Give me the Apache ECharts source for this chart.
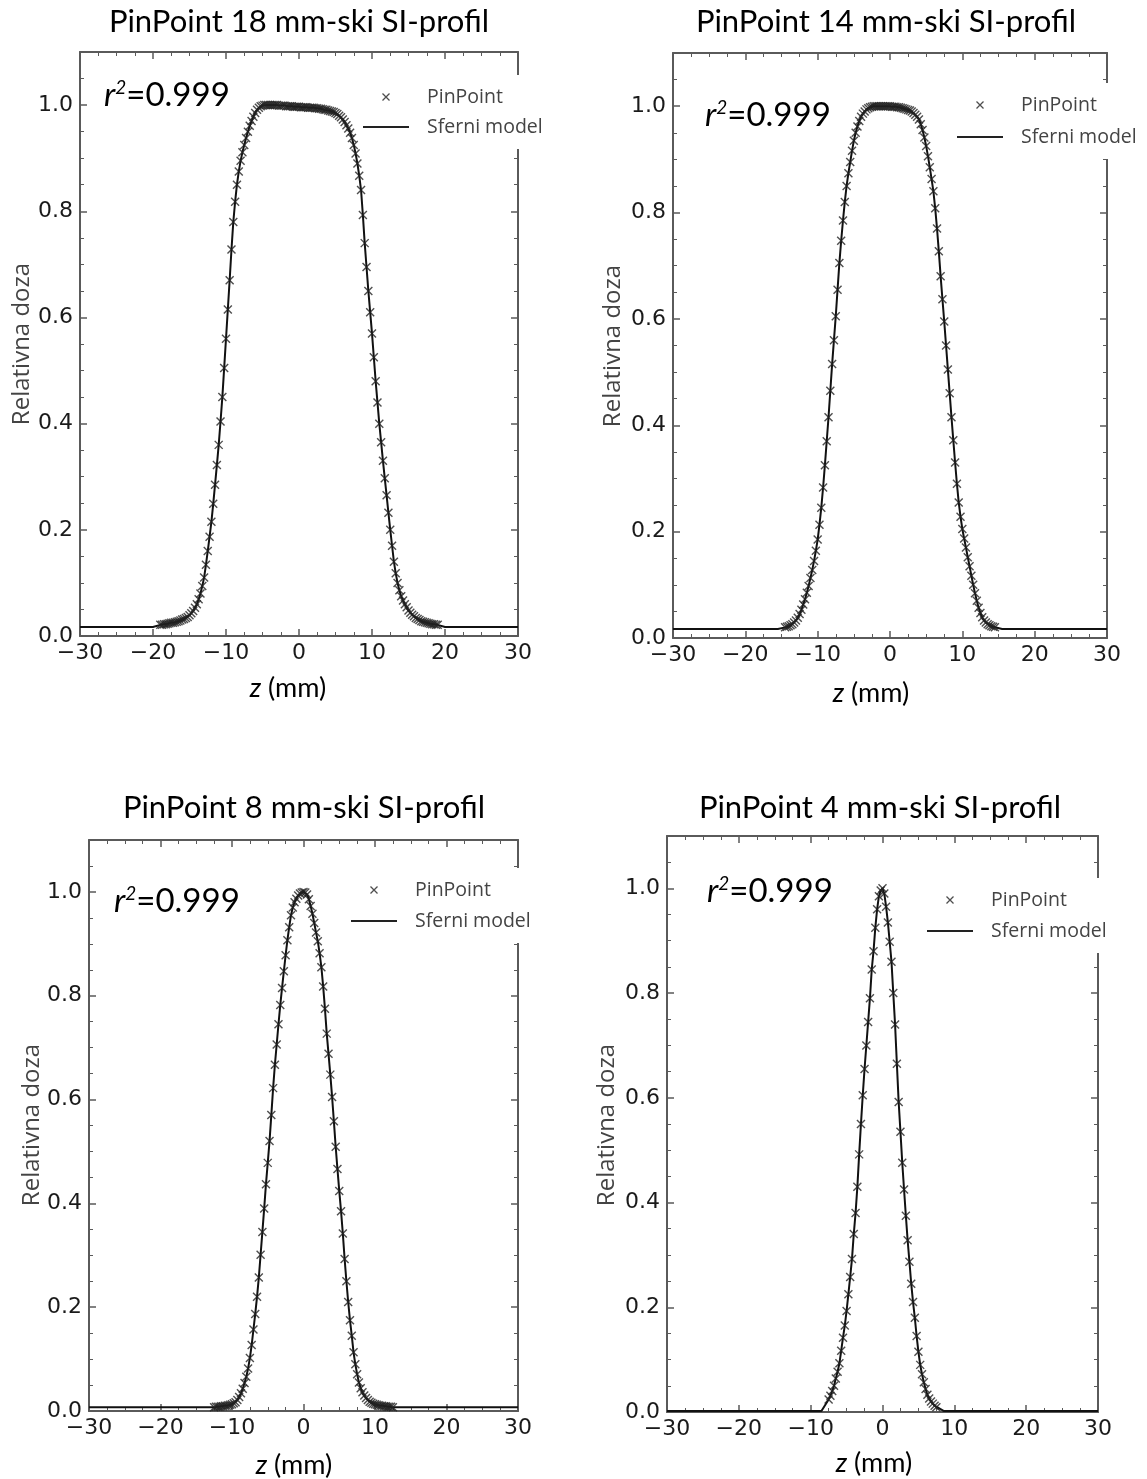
<!DOCTYPE html>
<html><head><meta charset="utf-8">
<script src="https://cdn.jsdelivr.net/npm/echarts@6/dist/echarts.min.js"></script>
<style>html,body{margin:0;padding:0;background:#fff}#c{width:1147px;height:1479px}</style>
</head><body><div id="c"></div>
<script>
// ---------------- DATA ----------------
const panelTitles = ['PinPoint 18 mm-ski SI-profil', 'PinPoint 14 mm-ski SI-profil', 'PinPoint 8 mm-ski SI-profil', 'PinPoint 4 mm-ski SI-profil'];
const r2Values = ['0.999', '0.999', '0.999', '0.999'];
const legendNames = ['PinPoint', 'Sferni model'];
const xAxisTitle = 'z';
const xAxisUnit = ' (mm)';
const yAxisTitle = 'Relativna doza';
const xRange = [-30, 30];
const xTickStep = 10;
const yRange = [0, 1.1];
const yTickStep = 0.2;

// measurement grids (start position in mm, spacing 0.25 mm)
const measStep = 0.25;
const pp18Start = -19;
const pp14Start = -14.5;
const pp8Start = -12.5;
const pp4Start = -7.5;

// relative dose
const pp18Dose = [
0.021,0.021,0.022,0.022,0.023,0.024,0.025,0.025,0.026,0.027,0.028,0.029,0.031,0.032,0.034,0.036,
0.039,0.043,0.047,0.053,0.060,0.069,0.080,0.094,0.110,0.134,0.160,0.187,0.215,0.249,0.285,0.322,
0.360,0.404,0.450,0.505,0.560,0.615,0.670,0.728,0.780,0.818,0.850,0.875,0.895,0.911,0.925,0.938,
0.950,0.961,0.970,0.978,0.985,0.991,0.995,0.998,0.999,1.000,1.000,1.000,1.000,1.000,1.000,1.000,
1.000,0.999,0.999,0.999,0.999,0.998,0.998,0.998,0.998,0.997,0.997,0.997,0.997,0.996,0.996,0.996,
0.996,0.995,0.995,0.995,0.995,0.994,0.994,0.993,0.993,0.992,0.991,0.991,0.990,0.989,0.988,0.987,
0.985,0.983,0.980,0.977,0.973,0.968,0.962,0.956,0.948,0.938,0.925,0.909,0.890,0.867,0.840,0.793,
0.740,0.695,0.650,0.610,0.570,0.525,0.480,0.440,0.400,0.365,0.330,0.297,0.265,0.232,0.200,0.170,
0.140,0.118,0.100,0.086,0.075,0.067,0.060,0.054,0.048,0.044,0.040,0.037,0.034,0.032,0.030,0.028,
0.027,0.026,0.025,0.024,0.023,0.022,0.022,0.021,0.021];
const pp14Dose = [
0.020,0.021,0.022,0.024,0.026,0.029,0.033,0.038,0.045,0.053,0.063,0.073,0.085,0.098,0.113,0.128,
0.145,0.164,0.185,0.213,0.245,0.283,0.325,0.370,0.415,0.465,0.515,0.560,0.605,0.655,0.705,0.747,
0.785,0.820,0.850,0.874,0.895,0.916,0.935,0.950,0.962,0.972,0.980,0.986,0.990,0.994,0.996,0.998,
0.999,1.000,1.000,1.000,1.000,1.000,1.000,1.000,1.000,1.000,1.000,0.999,0.999,0.999,0.998,0.998,
0.997,0.996,0.995,0.994,0.993,0.992,0.990,0.987,0.984,0.980,0.975,0.966,0.955,0.941,0.925,0.906,
0.885,0.863,0.840,0.808,0.770,0.727,0.680,0.637,0.595,0.550,0.505,0.460,0.415,0.372,0.330,0.290,
0.255,0.228,0.205,0.187,0.170,0.152,0.135,0.117,0.100,0.084,0.070,0.057,0.047,0.039,0.033,0.029,
0.026,0.024,0.022,0.021,0.020];
const pp8Dose = [
0.007,0.008,0.008,0.008,0.009,0.009,0.010,0.010,0.011,0.012,0.013,0.015,0.017,0.021,0.027,0.034,
0.043,0.054,0.066,0.082,0.102,0.127,0.157,0.187,0.220,0.257,0.301,0.345,0.390,0.437,0.478,0.520,
0.570,0.622,0.667,0.706,0.745,0.782,0.815,0.847,0.878,0.907,0.932,0.955,0.970,0.980,0.987,0.993,
0.997,0.999,1.000,0.999,0.995,0.986,0.973,0.958,0.940,0.922,0.905,0.882,0.855,0.818,0.775,0.727,
0.688,0.648,0.605,0.558,0.509,0.466,0.424,0.385,0.342,0.293,0.250,0.210,0.175,0.145,0.113,0.090,
0.071,0.055,0.044,0.036,0.030,0.025,0.021,0.018,0.016,0.014,0.013,0.012,0.011,0.010,0.010,0.009,
0.009,0.008,0.008,0.008,0.007];
const pp4Dose = [
0.024,0.031,0.040,0.050,0.064,0.077,0.093,0.117,0.142,0.165,0.193,0.225,0.258,0.292,0.340,0.380,
0.430,0.492,0.550,0.605,0.655,0.700,0.745,0.790,0.845,0.880,0.925,0.960,0.985,0.996,1.000,0.990,
0.965,0.935,0.898,0.860,0.800,0.740,0.665,0.592,0.535,0.476,0.425,0.375,0.328,0.287,0.245,0.210,
0.180,0.145,0.115,0.090,0.072,0.057,0.044,0.033,0.026,0.020,0.016,0.012,0.009];

// flat background level of the spherical model outside the scanned range
const modelBaseline = [0.017, 0.017, 0.007, 0.002];

// ---------------- LAYOUT / STYLE ----------------
const FRAME = '#5a5a5a';
const TICKFONT = '"DejaVu Sans", sans-serif';
const TITLEFONT = 'Lato, "Open Sans", sans-serif';
const LEGFONT = '"Open Sans", sans-serif';

const layout = [
  {grid:{left:80, top:52, width:438, height:584}, title:[299,22], r2:[104,95], leg:{left:363, top:75, gap:10}, yname:[22,344], xname:[288,688]},
  {grid:{left:673, top:53, width:434, height:585}, title:[886,22], r2:[705,115], leg:{left:957, top:83, gap:12}, yname:[613,346], xname:[871,693]},
  {grid:{left:89, top:840, width:429, height:571}, title:[304,808], r2:[114,901], leg:{left:351, top:868, gap:11}, yname:[32,1125], xname:[294,1465]},
  {grid:{left:667, top:836, width:431, height:576}, title:[880,808], r2:[707,891], leg:{left:927, top:878, gap:11}, yname:[607,1125], xname:[874,1463]}
];

const doses = [pp18Dose, pp14Dose, pp8Dose, pp4Dose];
const starts = [pp18Start, pp14Start, pp8Start, pp4Start];

const XMARK = 'path://M0,0L10,10M10,0L0,10';
const LINEICON = 'path://M0,0L46,0L46,2L0,2Z';

const option = {animation:false, grid:[], xAxis:[], yAxis:[], series:[], legend:[], graphic:[]};

function axisCommon() {
  return {
    axisLine:{show:true, onZero:false, lineStyle:{color:FRAME, width:2}},
    axisTick:{show:true, inside:true, length:7, lineStyle:{color:FRAME, width:1.5}},
    minorTick:{show:true, splitNumber:4, length:4, lineStyle:{color:FRAME, width:1}},
    splitLine:{show:false},
    minorSplitLine:{show:false}
  };
}

layout.forEach((L, i) => {
  option.grid.push(Object.assign({containLabel:false, show:false}, L.grid));
  const xa = {type:'value', gridIndex:i, min:xRange[0], max:xRange[1], interval:xTickStep};
  option.xAxis.push(Object.assign({}, xa, axisCommon(), {position:'bottom',
    axisLabel:{show:true, margin:6, fontSize:22, fontFamily:TICKFONT, color:'#1a1a1a',
      formatter: v => String(v).replace('-', '\u2212')}}));
  option.xAxis.push(Object.assign({}, xa, axisCommon(), {position:'top', axisLabel:{show:false}}));
  const ya = {type:'value', gridIndex:i, min:yRange[0], max:yRange[1], interval:yTickStep};
  option.yAxis.push(Object.assign({}, ya, axisCommon(), {position:'left',
    axisLabel:{show:true, margin:7, fontSize:22, fontFamily:TICKFONT, color:'#1a1a1a',
      formatter: v => (v > 1.05 ? '' : v.toFixed(1))}}));
  option.yAxis.push(Object.assign({}, ya, axisCommon(), {position:'right', axisLabel:{show:false}}));

  const pts = doses[i].map((d, k) => [starts[i] + k * measStep, d]);
  const base = modelBaseline[i];
  const first = pts[0][0], last = pts[pts.length - 1][0];
  const model = [[xRange[0], base], [first - 1, base]].concat(pts, [[last + 1, base], [xRange[1], base]]);

  option.series.push({
    name: legendNames[1], type:'line', xAxisIndex:2*i, yAxisIndex:2*i,
    data: model, symbol:'none', showSymbol:false, smooth:false, z:2,
    lineStyle:{color:'#111', width:2}, itemStyle:{color:'#111'}
  });
  option.series.push({
    name: legendNames[0], type:'scatter', xAxisIndex:2*i, yAxisIndex:2*i,
    data: pts, symbol: XMARK, symbolSize:8, z:3,
    itemStyle:{color:'rgba(0,0,0,0)', borderColor:'#222', borderWidth:1.4}
  });

  option.legend.push({
    left:L.leg.left, top:L.leg.top, orient:'vertical', itemWidth:46, itemHeight:7, itemGap:L.leg.gap,
    padding:[12, 8, 12, 0], backgroundColor:'#fff', selectedMode:false,
    textStyle:{fontSize:19.5, fontFamily:LEGFONT, color:'#444', lineHeight:20, padding:[0,0,0,13]},
    data:[
      {name:legendNames[0], icon:XMARK, itemStyle:{color:'rgba(0,0,0,0)', borderColor:'#222', borderWidth:1.3}},
      {name:legendNames[1], icon:LINEICON, itemStyle:{color:'#222', borderWidth:0}}
    ]
  });

  option.graphic.push({type:'text', x:L.title[0], y:L.title[1], z:10,
    style:{text:panelTitles[i], fontSize:31, fontFamily:TITLEFONT, fill:'#000', align:'center', verticalAlign:'middle'}});
  option.graphic.push({type:'text', x:L.r2[0], y:L.r2[1], z:10,
    style:{text:'{i|r}{s|2}{n|=' + r2Values[i] + '}', fontSize:33, fontFamily:TITLEFONT, fill:'#000', align:'left', verticalAlign:'middle',
      rich:{i:{fontSize:33, fontStyle:'italic', fontFamily:TITLEFONT, fill:'#000'},
            s:{fontSize:19, fontStyle:'italic', fontFamily:TITLEFONT, verticalAlign:'top', fill:'#000'},
            n:{fontSize:33, fontFamily:TITLEFONT, fill:'#000'}}}});
  option.graphic.push({type:'text', x:L.xname[0], y:L.xname[1], z:10,
    style:{text:'{i|' + xAxisTitle + '}{n|' + xAxisUnit + '}', fontSize:27, fontFamily:TITLEFONT, fill:'#000', align:'center', verticalAlign:'middle',
      rich:{i:{fontSize:27, fontStyle:'italic', fontFamily:TITLEFONT, fill:'#000'}, n:{fontSize:27, fontFamily:TITLEFONT, fill:'#000'}}}});
  option.graphic.push({type:'text', x:L.yname[0], y:L.yname[1], rotation:Math.PI/2, z:10,
    style:{text:yAxisTitle, fontSize:24, fontFamily:LEGFONT, fill:'#444', align:'center', verticalAlign:'middle'}});
});

const chart = echarts.init(document.getElementById('c'), null, {renderer:'canvas'});
chart.setOption(option);
</script>
</body></html>
